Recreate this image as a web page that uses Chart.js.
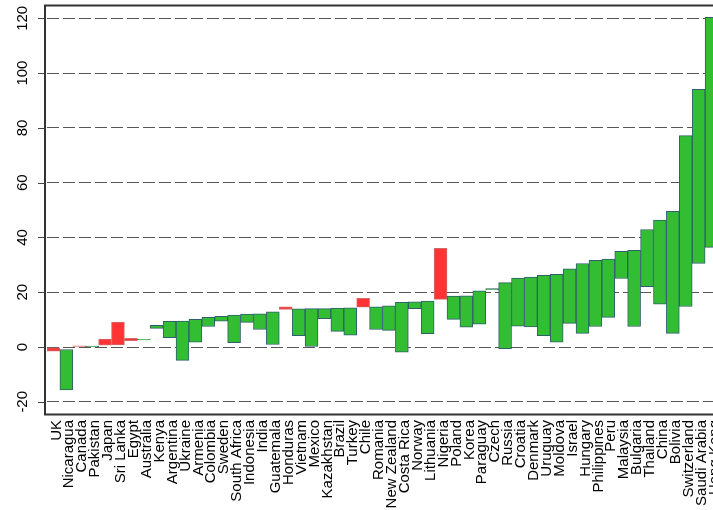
<!DOCTYPE html>
<html>
<head>
<meta charset="utf-8">
<script src="https://cdn.jsdelivr.net/npm/chart.js@4.4.1/dist/chart.umd.min.js"></script>
<style>
  html, body { margin: 0; padding: 0; overflow: hidden; background: #ffffff; }
  canvas { display: block; }
</style>
</head>
<body>
<canvas id="chart" width="720" height="510"></canvas>
<script>
// Countries, ordered by their end value
const countries = [
  'UK', 'Nicaragua', 'Canada', 'Pakistan', 'Japan', 'Sri Lanka', 'Egypt', 'Australia',
  'Kenya', 'Argentina', 'Ukraine', 'Armenia', 'Colombia', 'Sweden', 'South Africa',
  'Indonesia', 'India', 'Guatemala', 'Honduras', 'Vietnam', 'Mexico', 'Kazakhstan',
  'Brazil', 'Turkey', 'Chile', 'Romania', 'New Zealand', 'Costa Rica', 'Norway',
  'Lithuania', 'Nigeria', 'Poland', 'Korea', 'Paraguay', 'Czech', 'Russia', 'Croatia',
  'Denmark', 'Uruguay', 'Moldova', 'Israel', 'Hungary', 'Philippines', 'Peru',
  'Malaysia', 'Bulgaria', 'Thailand', 'China', 'Bolivia', 'Switzerland',
  'Saudi Arabia', 'Hong Kong'
];

// Where each bar begins
const startValues = [
  -0.3, -15.7, 0.4, 0.1, 2.9, 9.1, 3.2, 2.6,
  6.8, 3.4, -4.9, 1.8, 7.5, 9.4, 1.6,
  9.0, 6.4, 0.9, 14.7, 4.1, 0.0, 10.3,
  5.7, 4.3, 17.8, 6.4, 6.1, -1.9, 14.0,
  4.9, 36.0, 10.1, 7.2, 8.3, 20.9, -0.6, 7.6,
  7.3, 4.1, 1.8, 8.6, 5.0, 7.5, 10.8,
  25.0, 7.5, 22.0, 15.6, 5.0, 14.8,
  30.5, 36.4
];

// Where each bar ends
const endValues = [
  -1.5, -0.9, 0.0, 0.3, 0.7, 0.75, 2.3, 2.8,
  7.9, 9.4, 9.5, 10.1, 10.8, 11.2, 11.7,
  12.0, 12.1, 12.8, 13.7, 13.9, 14.0, 14.0,
  14.2, 14.3, 14.5, 14.7, 15.0, 16.3, 16.5,
  16.8, 17.4, 18.6, 18.7, 20.5, 21.3, 23.5, 25.2,
  25.5, 26.2, 26.5, 28.5, 30.5, 31.6, 32.1,
  34.9, 35.3, 42.9, 46.3, 49.5, 77.2,
  94.1, 120.4
];

// Value axis ticks
const yTicks = [-20, 0, 20, 40, 60, 80, 100, 120];

const FONT = '"Liberation Sans", Arial, Helvetica, sans-serif';
const RISE_FILL = '#33bd33';
const RISE_EDGE = '#2f5f6f';
const FALL_FILL = '#ff3333';
const FALL_EDGE = '#cf6b6b';

const falling = countries.map((_, i) => endValues[i] < startValues[i]);

// Box around the plot, left tick marks and rotated value labels
const axisFrame = {
  id: 'axisFrame',
  afterDraw(chart) {
    const { ctx, chartArea: a, scales: { y } } = chart;
    const axisX = 45;
    ctx.save();
    ctx.strokeStyle = '#333333';
    ctx.lineWidth = 2;
    ctx.setLineDash([]);
    ctx.beginPath();
    ctx.moveTo(a.right + 20, a.top - 0.5);
    ctx.lineTo(axisX, a.top - 0.5);
    ctx.lineTo(axisX, a.bottom + 0.5);
    ctx.lineTo(a.right + 20, a.bottom + 0.5);
    ctx.stroke();

    ctx.lineWidth = 1;
    ctx.strokeStyle = '#444444';
    ctx.fillStyle = '#000000';
    ctx.font = '15px ' + FONT;
    ctx.textAlign = 'center';
    ctx.textBaseline = 'middle';
    yTicks.forEach(v => {
      const py = y.getPixelForValue(v);
      const ly = Math.round(py) + 0.5;
      ctx.beginPath();
      ctx.moveTo(38, ly);
      ctx.lineTo(axisX, ly);
      ctx.stroke();
      ctx.save();
      ctx.translate(23, py);
      ctx.rotate(-Math.PI / 2);
      ctx.fillText(String(v), 0, 0);
      ctx.restore();
    });
    ctx.restore();
  }
};

new Chart(document.getElementById('chart'), {
  type: 'bar',
  data: {
    labels: countries,
    datasets: [{
      data: countries.map((_, i) => [startValues[i], endValues[i]]),
      backgroundColor: falling.map(f => f ? FALL_FILL : RISE_FILL),
      borderColor: falling.map(f => f ? FALL_EDGE : RISE_EDGE),
      borderWidth: 1,
      borderSkipped: false,
      barPercentage: 1.0,
      categoryPercentage: 1.0
    }]
  },
  options: {
    responsive: false,
    animation: false,
    layout: { padding: { top: 6, right: 2, left: 0, bottom: 0 } },
    plugins: {
      legend: { display: false },
      tooltip: { enabled: false }
    },
    scales: {
      x: {
        type: 'category',
        offset: true,
        grid: { display: false, drawTicks: false },
        border: { display: false },
        ticks: {
          autoSkip: false,
          minRotation: 90,
          maxRotation: 90,
          padding: 6,
          labelOffset: 3,
          color: '#000000',
          font: { family: FONT, size: 15 }
        },
        afterFit(s) {
          s.height = 96;
          s.paddingLeft = 0;
          s.paddingRight = 0;
        }
      },
      y: {
        min: -24.46,
        max: 124.5,
        grid: { color: '#555555', lineWidth: 1, drawTicks: false },
        border: { display: false, dash: [12, 4] },
        ticks: { display: false, stepSize: 20, includeBounds: false },
        afterFit(s) {
          s.width = 47;
          s.paddingTop = 0;
          s.paddingBottom = 0;
        }
      }
    }
  },
  plugins: [axisFrame]
});
</script>
</body>
</html>
